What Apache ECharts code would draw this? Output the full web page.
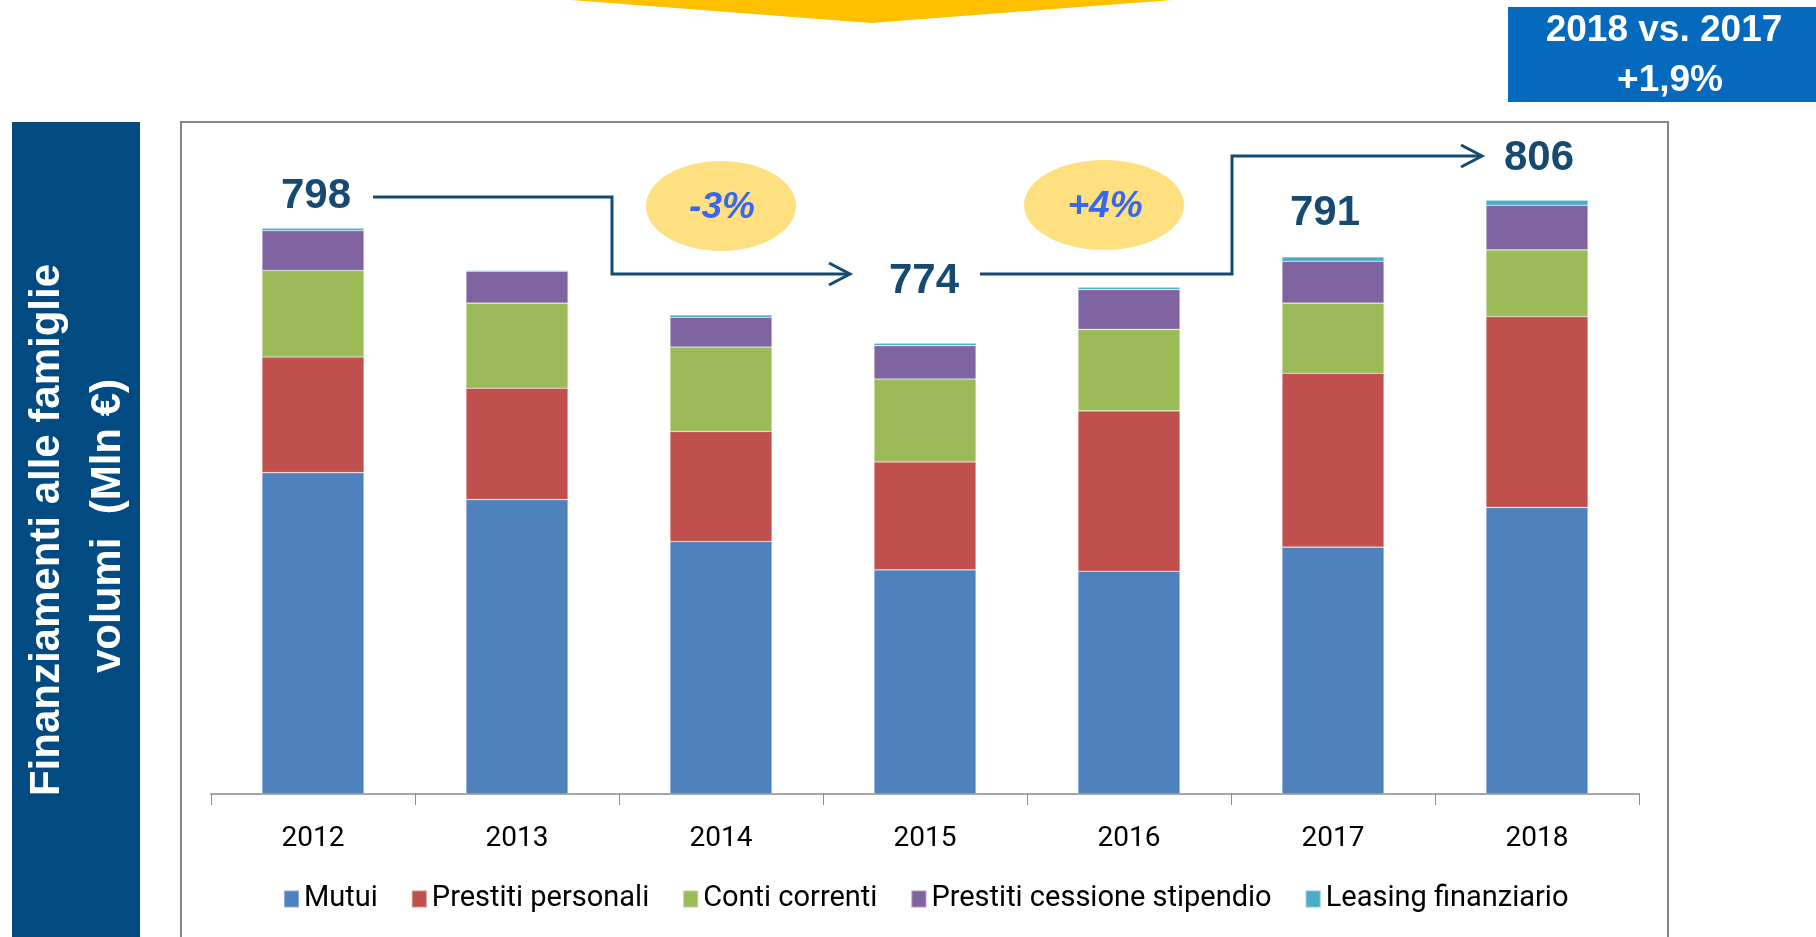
<!DOCTYPE html>
<html><head><meta charset="utf-8">
<script src="https://cdn.jsdelivr.net/npm/echarts@6/dist/echarts.min.js"></script>
<style>html,body{margin:0;padding:0;background:#fff;}#c{width:1816px;height:937px;}</style>
</head><body><div id="c"></div>
<script>
// ---- data ----
const years = ['2012', '2013', '2014', '2015', '2016', '2017', '2018'];
const mutui = [453, 415, 356, 316, 314, 348, 404];
const prestitiPersonali = [163, 157, 155, 152, 226, 245, 269];
const contiCorrenti = [122, 120, 119, 117, 115, 99, 94];
const prestitiCessione = [56, 45, 42, 47, 56, 59, 63];
const leasingFinanziario = [3.4, 1.5, 3.4, 3.4, 3.4, 6.2, 7.0];
const seriesNames = ['Mutui', 'Prestiti personali', 'Conti correnti', 'Prestiti cessione stipendio', 'Leasing finanziario'];
const seriesColors = ['#4F81BD', '#C0504D', '#9BBB59', '#8064A2', '#4BACC6'];
const totalTexts = ['798', '774', '791', '806'];
const changeTexts = ['-3%', '+4%'];
const headerTexts = ['2018 vs. 2017', '+1,9%'];
const sideTitleTexts = ['Finanziamenti alle famiglie', 'volumi  (Mln €)'];

const seriesData = [mutui, prestitiPersonali, contiCorrenti, prestitiCessione, leasingFinanziario];

const navy = '#174A73';
function txt(x, y, text, font, fill, extra) {
  return Object.assign({
    type: 'text', x: x, y: y, z: 100,
    style: { text: text, font: font, fill: fill, align: 'center', verticalAlign: 'middle', textAlign: 'center', textVerticalAlign: 'middle' }
  }, extra || {});
}

const graphics = [
  // chart frame
  { type: 'rect', z: -10, shape: { x: 181, y: 122, width: 1487, height: 840 }, style: { fill: '#fff', stroke: '#868686', lineWidth: 2 } },
  // left title box
  { type: 'rect', z: 50, shape: { x: 12, y: 122, width: 128, height: 830 }, style: { fill: '#024B82' } },
  txt(47, 530, sideTitleTexts[0], 'bold 42px "Liberation Sans", Arial, sans-serif', '#fff', { rotation: Math.PI / 2 }),
  txt(108, 526, sideTitleTexts[1], 'bold 42px "Liberation Sans", Arial, sans-serif', '#fff', { rotation: Math.PI / 2 }),
  // top chevron
  { type: 'polygon', z: 50, shape: { points: [[571, 0], [871, 23], [1172, 0]] }, style: { fill: '#FFC000' } },
  // header box
  { type: 'rect', z: 50, shape: { x: 1508, y: 7, width: 308, height: 95 }, style: { fill: '#056ABD' } },
  txt(1664, 31, headerTexts[0], 'bold 37px "Liberation Sans", Arial, sans-serif', '#fff'),
  txt(1670, 81, headerTexts[1], 'bold 37px "Liberation Sans", Arial, sans-serif', '#fff'),
  // ellipses
  { type: 'ellipse', z: 90, shape: { cx: 721, cy: 206, rx: 75, ry: 45 }, style: { fill: '#FFE080' } },
  { type: 'ellipse', z: 90, shape: { cx: 1104, cy: 205, rx: 80, ry: 45 }, style: { fill: '#FFE080' } },
  txt(722, 208, changeTexts[0], 'italic bold 37px "Liberation Sans", Arial, sans-serif', '#3867F2'),
  txt(1105, 207, changeTexts[1], 'italic bold 37px "Liberation Sans", Arial, sans-serif', '#3867F2'),
  // arrows
  { type: 'polyline', z: 95, shape: { points: [[373, 197], [612, 197], [612, 274], [849, 274]] }, style: { stroke: navy, lineWidth: 3, fill: null } },
  { type: 'polyline', z: 95, shape: { points: [[829, 263], [850, 274], [829, 285]] }, style: { stroke: navy, lineWidth: 3, fill: null } },
  { type: 'polyline', z: 95, shape: { points: [[980, 274], [1232, 274], [1232, 156], [1481, 156]] }, style: { stroke: navy, lineWidth: 3, fill: null } },
  { type: 'polyline', z: 95, shape: { points: [[1461, 145], [1482, 156], [1461, 167]] }, style: { stroke: navy, lineWidth: 3, fill: null } },
  // totals
  txt(316, 196, totalTexts[0], 'bold 42px "Liberation Sans", Arial, sans-serif', navy),
  txt(924, 281, totalTexts[1], 'bold 42px "Liberation Sans", Arial, sans-serif', navy),
  txt(1325, 213, totalTexts[2], 'bold 42px "Liberation Sans", Arial, sans-serif', navy),
  txt(1539, 158, totalTexts[3], 'bold 42px "Liberation Sans", Arial, sans-serif', navy)
];

const chart = echarts.init(document.getElementById('c'), null, { renderer: 'canvas' });
chart.setOption({
  animation: false,
  backgroundColor: '#fff',
  grid: { left: 211, right: 177, top: 191, bottom: 143, containLabel: false },
  xAxis: {
    type: 'category', data: years,
    axisLine: { lineStyle: { color: '#A6A6A6', width: 2 } },
    axisTick: { show: true, length: 11, lineStyle: { color: '#8C8C8C', width: 1 } },
    axisLabel: { color: '#000', fontFamily: 'Roboto', fontSize: 28, lineHeight: 28, margin: 31 }
  },
  yAxis: { type: 'value', min: 0, max: 850, show: false, splitLine: { show: false } },
  legend: {
    data: seriesNames, left: 283, top: 884, padding: 0,
    icon: 'rect', itemWidth: 15, itemHeight: 17, itemGap: 33,
    textStyle: { color: '#000', fontFamily: 'Roboto', fontSize: 29, lineHeight: 30 }
  },
  series: seriesNames.map((n, i) => ({
    name: n, type: 'bar', stack: 'tot', barWidth: '50%',
    data: seriesData[i],
    itemStyle: { color: seriesColors[i], borderColor: 'rgba(255,255,255,0.35)', borderWidth: 0.6 }
  })),
  graphic: graphics
});
</script>
</body></html>
